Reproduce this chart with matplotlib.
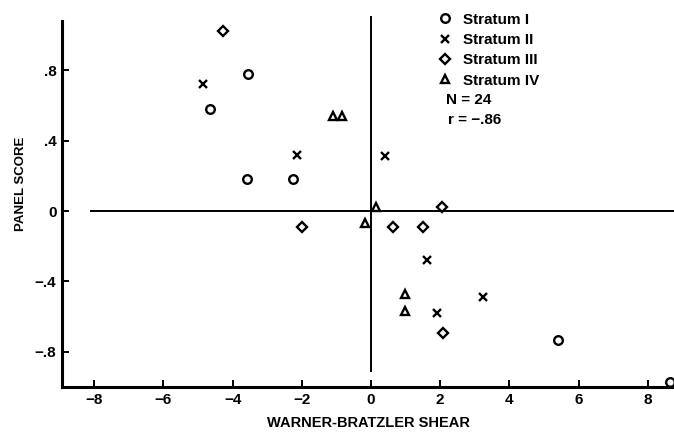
import matplotlib
matplotlib.use("Agg")
import matplotlib.pyplot as plt

plt.rcParams['font.family'] = ['Liberation Sans', 'DejaVu Sans']
plt.rcParams['font.weight'] = 'bold'
plt.rcParams['axes.labelweight'] = 'bold'

# Shear deviation (x) vs panel score deviation (y), by stratum
s1_x = [-3.56, -4.65, -3.57, -2.25, 5.41, 8.64]
s1_y = [0.78, 0.58, 0.18, 0.18, -0.73, -0.97]
s2_x = [-4.86, -2.15, 0.42, 1.63, 3.25, 1.92]
s2_y = [0.72, 0.32, 0.31, -0.28, -0.49, -0.58]
s3_x = [-4.27, -2.0, 0.65, 1.51, 2.06, 2.07]
s3_y = [1.02, -0.09, -0.09, -0.09, 0.02, -0.69]
s4_x = [-1.09, -0.83, 0.16, -0.17, 0.98, 0.98]
s4_y = [0.54, 0.54, 0.02, -0.07, -0.47, -0.57]

xticks = [-8, -6, -4, -2, 0, 2, 4, 6, 8]
yticks = [-0.8, -0.4, 0, 0.4, 0.8]
ytick_labels = ['\u2212.8', '\u2212.4', '0', '.4', '.8']

fig = plt.figure(figsize=(6.74, 4.33), dpi=100)
ax = fig.add_axes([0.092, 0.106, 0.908, 0.854])
ax.set_xlim(-8.93, 8.76)
ax.set_ylim(-1.0, 1.1)

style = dict(linestyle='none', markerfacecolor='none', markeredgecolor='black',
             markeredgewidth=1.7, color='black')
h1, = ax.plot(s1_x, s1_y, marker='o', markersize=6.2, label='Stratum I', **style)
h2, = ax.plot(s2_x, s2_y, marker='x', markersize=6, label='Stratum II', **style)
h3, = ax.plot(s3_x, s3_y, marker='D', markersize=5.6, label='Stratum III', **style)
h4, = ax.plot(s4_x, s4_y, marker='^', markersize=6.2, label='Stratum IV', **style)

# crosshair through the origin
ax.plot([-8.1, 8.76], [0, 0], color='black', linewidth=1.4, clip_on=False)
ax.plot([0, 0], [-0.91, 1.1], color='black', linewidth=1.4, clip_on=False)

for side in ['top', 'right']:
    ax.spines[side].set_visible(False)
for side in ['left', 'bottom']:
    ax.spines[side].set_linewidth(2.2)
ax.spines['left'].set_bounds(-1.0, 1.08)

ax.set_xticks(xticks)
ax.set_xticklabels([str(t).replace('-', '\u2212') for t in xticks])
ax.set_yticks(yticks)
ax.set_yticklabels(ytick_labels)
ax.tick_params(direction='in', length=5, width=1.4, labelsize=11, pad=4)

ax.set_xlabel('WARNER-BRATZLER SHEAR', fontsize=10.5, labelpad=7)
ax.set_ylabel('PANEL SCORE', fontsize=9.5)
ax.yaxis.set_label_coords(-0.057, 0.551)

leg = ax.legend(handles=[h1, h2, h3, h4], loc='upper left',
                bbox_to_anchor=(0.616, 1.013), frameon=False,
                prop={'size': 11, 'weight': 'bold'},
                handlelength=0.8, handletextpad=0.78, labelspacing=0.42,
                borderpad=0, borderaxespad=0)
ax.text(0.627, 0.776, 'N = 24', transform=ax.transAxes, fontsize=11, va='center')
ax.text(0.631, 0.722, 'r = \u2212.86', transform=ax.transAxes, fontsize=11, va='center')

fig.savefig('out.png', dpi=100)
